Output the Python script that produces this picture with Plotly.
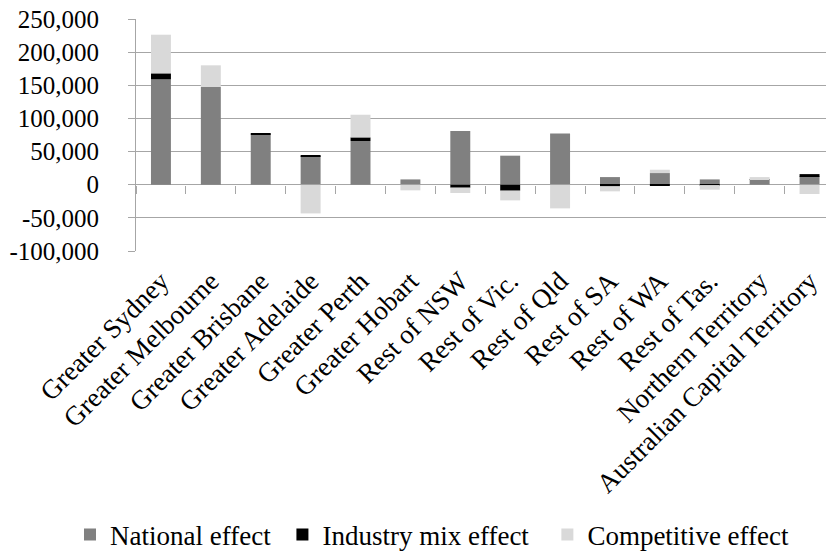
import plotly.graph_objects as go

# Employment change decomposition by region (shift-share components)
regions = [
    "Greater Sydney", "Greater Melbourne", "Greater Brisbane", "Greater Adelaide",
    "Greater Perth", "Greater Hobart", "Rest of NSW", "Rest of Vic.", "Rest of Qld",
    "Rest of SA", "Rest of WA", "Rest of Tas.", "Northern Territory",
    "Australian Capital Territory",
]
national_effect = [159000, 147400, 75900, 43300, 65900, 8000, 81000, 43800, 77400,
                   11500, 17600, 8000, 8000, 13000]
industry_mix_effect = [9000, 0, 1500, 1500, 5500, 0, -4500, -9000, 0,
                       -2500, -1500, -500, 500, 3000]
competitive_effect = [58300, 32700, 0, -43300, 34200, -8500, -8000, -14600, -35700,
                      -7500, 5000, -7000, 3000, -14000]

y_tick_values = [-100000, -50000, 0, 50000, 100000, 150000, 200000, 250000]
y_tick_labels = ["-100,000", "-50,000", "0", "50,000", "100,000", "150,000",
                 "200,000", "250,000"]

FONT = "Liberation Serif"
GRID = "#a6a6a6"
NBSP = "\u00a0"

fig = go.Figure()
series = [
    ("National effect" + NBSP, national_effect, "#808080"),
    ("Industry mix effect" + NBSP * 2, industry_mix_effect, "#000000"),
    ("Competitive effect", competitive_effect, "#d9d9d9"),
]
for name, vals, color in series:
    fig.add_trace(go.Bar(
        x=regions, y=vals, name=name,
        marker=dict(color=color, line=dict(width=0)),
    ))

# helper trace carrying the category tick marks along the zero line
fig.add_trace(go.Scatter(
    x=regions, y=[None] * len(regions), xaxis="x2", mode="markers",
    showlegend=False, hoverinfo="skip",
))

y_min, y_max = -100000, 250000
x_range = [-0.5, 13.33]

fig.update_layout(
    width=826, height=553,
    margin=dict(l=136, r=0, t=19, b=302, autoexpand=False),
    paper_bgcolor="white", plot_bgcolor="white",
    barmode="relative", bargap=0.6,
    font=dict(family=FONT, size=25, color="black"),
    xaxis=dict(
        type="category", categoryorder="array", categoryarray=regions,
        range=x_range, tickangle=-45, showgrid=False, showline=False,
        ticks="", automargin=False,
        tickfont=dict(family=FONT, size=27, color="black"),
        ticklabelstandoff=8,
    ),
    xaxis2=dict(
        type="category", categoryorder="array", categoryarray=regions,
        range=x_range, overlaying="x", anchor="free",
        position=(0 - y_min) / (y_max - y_min),
        showticklabels=False, showgrid=False, showline=False,
        ticks="outside", tickson="boundaries", ticklen=8, tickwidth=1,
        tickcolor=GRID, automargin=False,
    ),
    yaxis=dict(
        range=[y_min, y_max], tickmode="array", tickvals=y_tick_values,
        ticktext=y_tick_labels, showgrid=True, gridcolor=GRID, gridwidth=1,
        zeroline=True, zerolinecolor=GRID, zerolinewidth=1,
        showline=True, linecolor=GRID, linewidth=1,
        ticks="outside", ticklen=7, tickcolor=GRID,
        ticklabelstandoff=24, automargin=False,
        tickfont=dict(family=FONT, size=25, color="black"),
    ),
    legend=dict(
        orientation="h", xref="paper", yref="paper",
        x=-66 / 690, xanchor="left", y=-284 / 232, yanchor="middle",
        font=dict(family=FONT, size=27, color="black"),
        itemwidth=30, bgcolor="rgba(0,0,0,0)", traceorder="normal",
    ),
    showlegend=True,
)

fig.write_html("out.html")
